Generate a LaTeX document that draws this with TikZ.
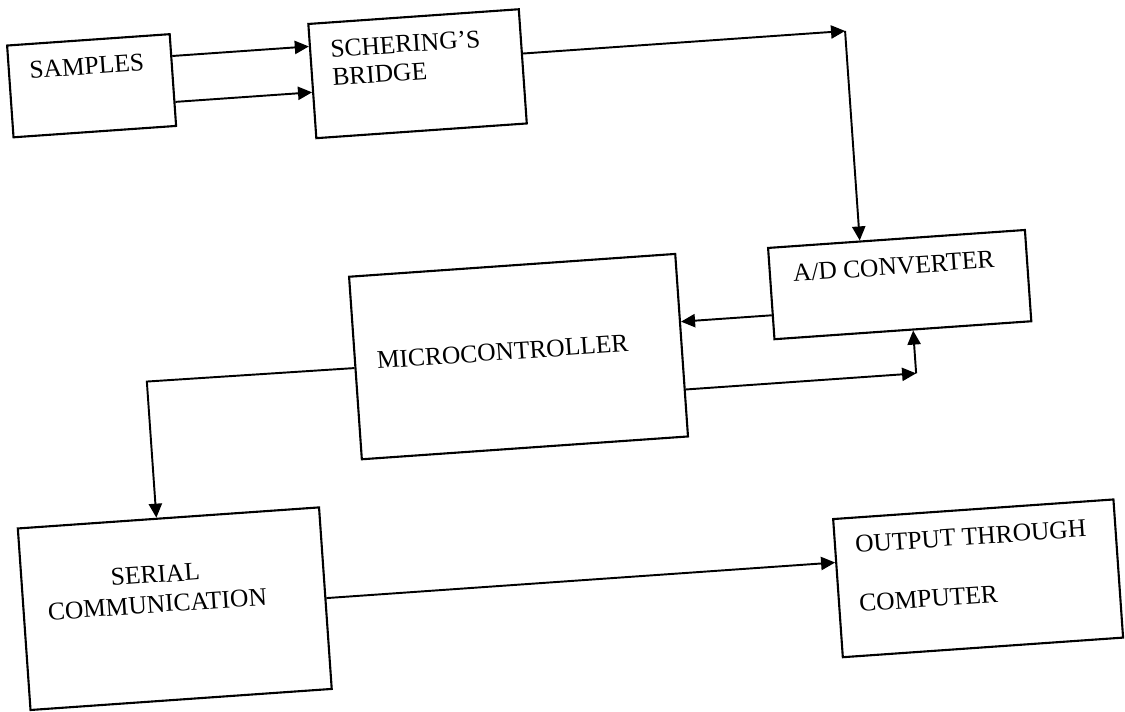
\documentclass[tikz,border=0pt]{standalone}
\usepackage{fontspec}
\setmainfont{Liberation Serif}
\usetikzlibrary{arrows.meta}

\begin{document}
\begin{tikzpicture}[x=0.02cm,y=-0.02cm]

        \fill[white] (0,0) rectangle (1125,710);

        \begin{scope}[rotate around={4:(562.5,355)},transform shape]

          \begin{scope}[every node/.style={draw,line width=1.2pt,inner sep=0pt,anchor=north west}]
            \node[minimum width=3.26cm,minimum height=1.84cm] (samples)  at (29,6.5)    {};
            \node[minimum width=4.22cm,minimum height=2.29cm] (schering) at (331,6)     {};
            \node[minimum width=5.15cm,minimum height=1.83cm] (adc)      at (774,261.5) {};
            \node[minimum width=6.54cm,minimum height=3.66cm] (micro)    at (354,261)   {};
            \node[minimum width=6.04cm,minimum height=3.64cm] (serial)   at (6,489)     {};
            \node[minimum width=5.62cm,minimum height=2.77cm] (output)   at (820,536.5) {};
          \end{scope}

          \begin{scope}[every node/.style={inner sep=0pt,font=\fontsize{14.5}{16}\selectfont}]
            \node[anchor=base] (samplestxt) at (108,42) {SAMPLES};
            \node[anchor=north west,align=left] (scheringtxt) at (352,24.8) {SCHERING’S\\BRIDGE};
            \node[anchor=base] (adctxt) at (899,298) {A/D CONVERTER};
            \node[anchor=base] (microtxt) at (503,356) {MICROCONTROLLER};
            \node[anchor=north,align=center,font=\fontsize{14.5}{17}\selectfont] (serialtxt) at (141,536.6) {SERIAL\\COMMUNICATION};
            \node[anchor=north west,align=left,font=\fontsize{14.5}{33.6}\selectfont] (outputtxt) at (841,555.6) {OUTPUT THROUGH\\COMPUTER};
          \end{scope}

          \begin{scope}[line width=1.1pt,>={Triangle[length=8pt,width=7.5pt]}]
            \coordinate (up)    at (0,29.5);
            \coordinate (down)  at (0,75.5);
            \coordinate (bend1) at (867,51.5);
            \coordinate (back)  at (0,330);
            \coordinate (bend2) at (914,398);
            \coordinate (bend3) at (146,352.5);

            \draw[->] (samples.east |- up)     -- (schering.west |- up);
            \draw[->] (samples.east |- down)   -- (schering.west |- down);
            \draw[->] (schering.east |- bend1) -- (bend1);
            \draw[->] (bend1) -- (bend1 |- adc.north);
            \draw[->] (adc.west |- back)       -- (micro.east |- back);
            \draw[->] (micro.east |- bend2)    -- (bend2);
            \draw[->] (bend2) -- (bend2 |- adc.south);
            \draw[->] (micro.west) -- (bend3) -- (bend3 |- serial.north);
            \draw[->] (serial.east) -- (serial.east -| output.west);
          \end{scope}
        \end{scope}

      \end{tikzpicture}
\end{document}
